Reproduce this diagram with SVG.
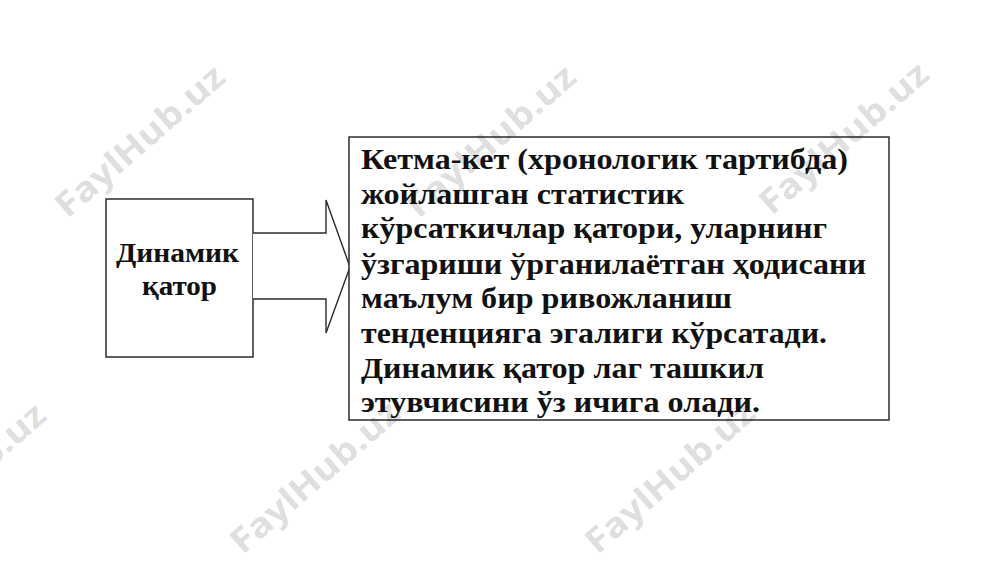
<svg xmlns="http://www.w3.org/2000/svg" width="1000" height="562" viewBox="0 0 1000 562">
<style>
.box{fill:#fff;stroke:#2b2b2b;stroke-width:1.5}
.conn{fill:#fff;stroke:#2b2b2b;stroke-width:1.4;stroke-linejoin:miter}
.t{font-family:"Liberation Serif","Times New Roman",serif;font-weight:bold;fill:#111}
.wm{font-family:"Open Sans","DejaVu Sans",sans-serif;font-weight:bold;font-size:34px;fill:#000;fill-opacity:0.15;text-anchor:middle;dominant-baseline:central}
</style>
<rect width="1000" height="562" fill="#fff"/>
<g id="node-left">
<rect class="box" x="106" y="199" width="147" height="158"/>
<text class="t" font-size="27" x="116" y="262" textLength="123" lengthAdjust="spacingAndGlyphs">Динамик</text>
<text class="t" font-size="27" x="142" y="295" textLength="75" lengthAdjust="spacingAndGlyphs">қатор</text>
</g>
<g id="connectors">
<path class="conn" d="M253,233 L326,233 L326,200 L350,267 L326,333 L326,299 L253,299"/>
</g>
<g id="node-right">
<rect class="box" x="349" y="137" width="540" height="283"/>
<g class="t" font-size="30">
<text x="361" y="169" textLength="487" lengthAdjust="spacingAndGlyphs">Кетма-кет (хронологик тартибда)</text>
<text x="361" y="204" textLength="323" lengthAdjust="spacingAndGlyphs">жойлашган статистик</text>
<text x="361" y="238" textLength="466" lengthAdjust="spacingAndGlyphs">кўрсаткичлар қатори, уларнинг</text>
<text x="361" y="274" textLength="505" lengthAdjust="spacingAndGlyphs">ўзгариши ўрганилаётган ҳодисани</text>
<text x="361" y="308" textLength="371" lengthAdjust="spacingAndGlyphs">маълум бир ривожланиш</text>
<text x="361" y="343" textLength="466" lengthAdjust="spacingAndGlyphs">тенденцияга эгалиги кўрсатади.</text>
<text x="361" y="378" textLength="403" lengthAdjust="spacingAndGlyphs">Динамик қатор лаг ташкил</text>
<text x="361" y="412" textLength="399" lengthAdjust="spacingAndGlyphs">этувчисини ўз ичига олади.</text>
</g>
</g>
<g id="watermark">
<text class="wm" transform="translate(139,140) rotate(-41)" textLength="212" lengthAdjust="spacingAndGlyphs">FaylHub.uz</text>
<text class="wm" transform="translate(490,140) rotate(-41)" textLength="212" lengthAdjust="spacingAndGlyphs">FaylHub.uz</text>
<text class="wm" transform="translate(843,137) rotate(-41)" textLength="212" lengthAdjust="spacingAndGlyphs">FaylHub.uz</text>
<text class="wm" transform="translate(-40,478) rotate(-41)" textLength="212" lengthAdjust="spacingAndGlyphs">FaylHub.uz</text>
<text class="wm" transform="translate(314,476) rotate(-41)" textLength="212" lengthAdjust="spacingAndGlyphs">FaylHub.uz</text>
<text class="wm" transform="translate(669,476) rotate(-41)" textLength="212" lengthAdjust="spacingAndGlyphs">FaylHub.uz</text>
</g>
</svg>
